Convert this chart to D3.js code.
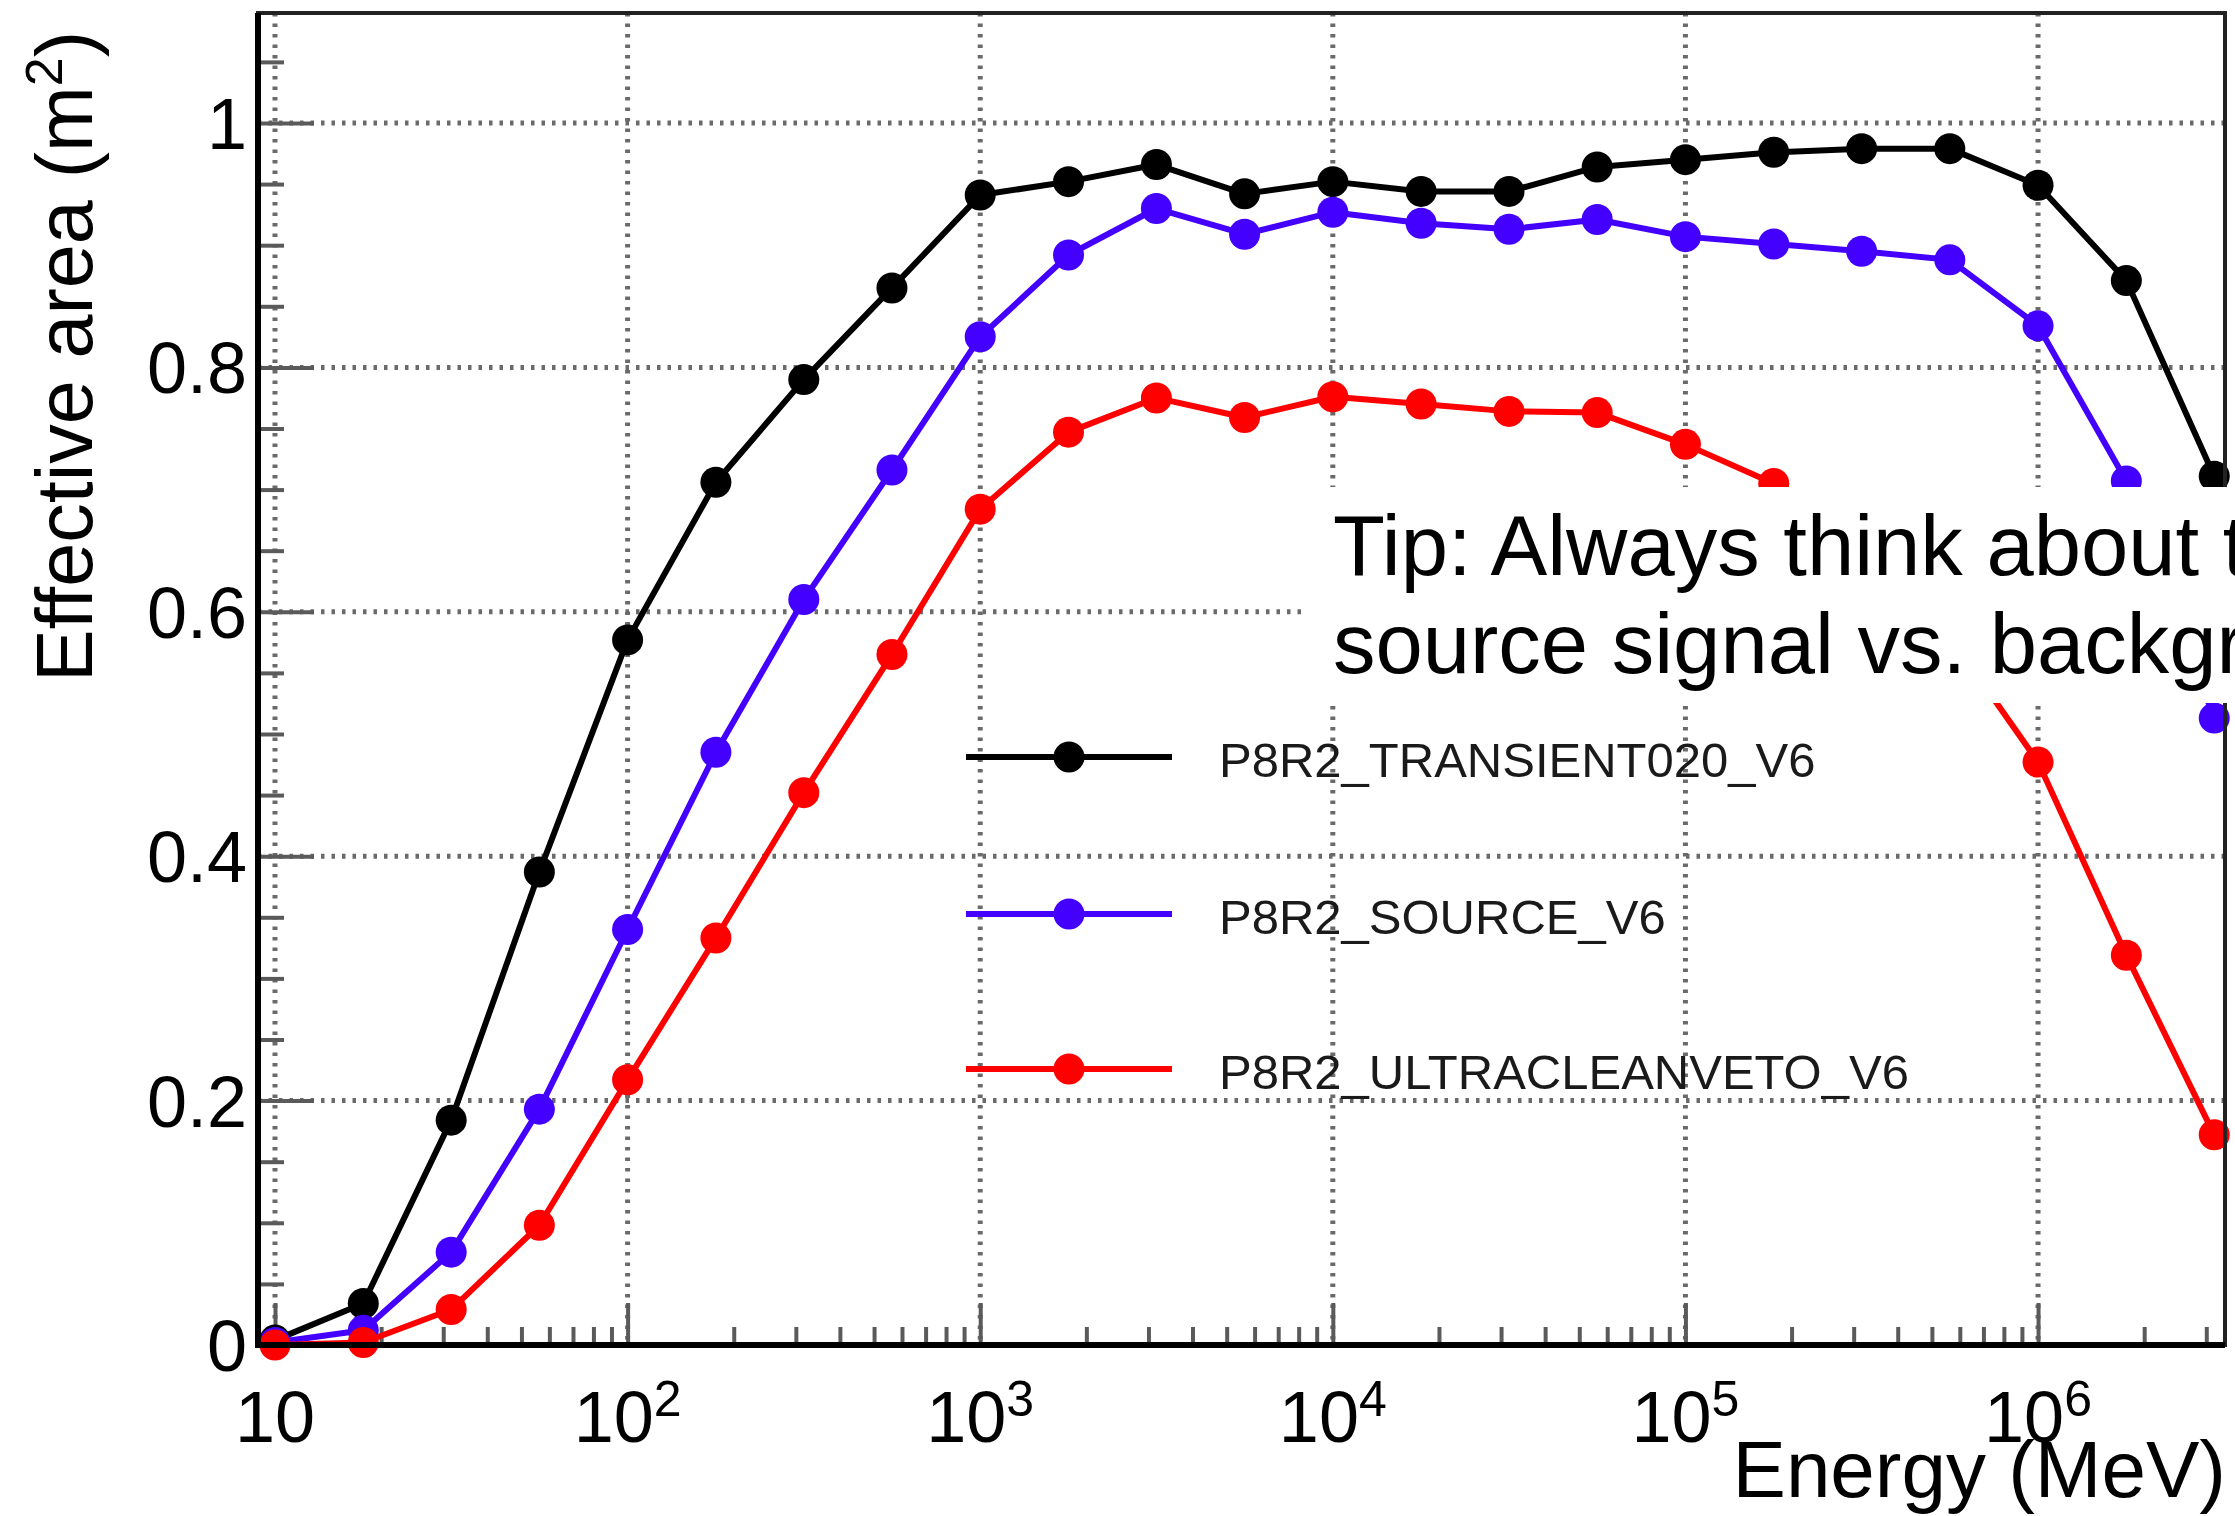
<!DOCTYPE html>
<html>
<head>
<meta charset="utf-8">
<script src="https://cdn.jsdelivr.net/npm/d3@7"></script>
<style>
  html, body { margin: 0; padding: 0; background: #fff; }
  svg { display: block; font-family: "Liberation Sans", Arial, sans-serif; }
</style>
</head>
<body>
<div id="chart"></div>
<script>
// energy bins (MeV), 4 per decade
const energies = [10, 17.8, 31.6, 56.2, 100, 178, 316, 562, 1000, 1780, 3160, 5620,
                  10000, 17800, 31600, 56200, 100000, 178000, 316000, 562000,
                  1000000, 1780000, 3160000];

// effective area (m^2)
const transient020 = [0.004, 0.034, 0.184, 0.387, 0.577, 0.706, 0.790, 0.865, 0.941, 0.952, 0.966, 0.942,
                      0.952, 0.944, 0.944, 0.964, 0.970, 0.976, 0.979, 0.979, 0.949, 0.871, 0.711];
const source       = [0.002, 0.012, 0.076, 0.193, 0.340, 0.485, 0.610, 0.716, 0.825, 0.892, 0.930, 0.909,
                      0.927, 0.918, 0.913, 0.921, 0.907, 0.901, 0.895, 0.888, 0.834, 0.707, 0.513];
const ultraclean   = [0.000, 0.002, 0.029, 0.098, 0.217, 0.333, 0.452, 0.565, 0.684, 0.747, 0.775, 0.759,
                      0.776, 0.770, 0.764, 0.763, 0.737, 0.705, 0.660, 0.580, 0.477, 0.319, 0.172];

const seriesNames  = ["P8R2_TRANSIENT020_V6", "P8R2_SOURCE_V6", "P8R2_ULTRACLEANVETO_V6"];
const seriesColors = ["#000000", "#4400ff", "#ff0000"];

const xMajorTicks = [10, 100, 1000, 10000, 100000, 1000000];
const xTickExponents = [1, 2, 3, 4, 5, 6];
const yMajorTicks = [0, 0.2, 0.4, 0.6, 0.8, 1];
const yTickLabels = ["0", "0.2", "0.4", "0.6", "0.8", "1"];

const tipLines = ["Tip: Always think about the", "source signal vs. background"];

const W = 2235, H = 1516;
const margin = { top: 13, right: 10, bottom: 171, left: 258 };
const width = W - margin.left - margin.right,
      height = H - margin.top - margin.bottom;

const svg = d3.select("#chart").append("svg")
    .attr("width", W)
    .attr("height", H);

const g = svg.append("g")
    .attr("transform", "translate(" + margin.left + "," + margin.top + ")");

const x = d3.scaleLog().domain([8.95, 3.39e6]).range([0, width]);
const y = d3.scaleLinear().domain([0, 1.09]).range([height, 0]);

// minor ticks
const xMinorTicks = [];
for (let d = 10; d <= 1e6; d *= 10) {
  for (let k = 2; k <= 9; k++) {
    if (d * k < 3.39e6) xMinorTicks.push(d * k);
  }
}
const yMinorTicks = d3.range(1, 22).map(i => i * 0.05).filter(v => Math.abs(v * 5 - Math.round(v * 5)) > 1e-6);

// grid
g.selectAll(".vgrid")
    .data(xMajorTicks)
    .enter().append("line")
    .attr("x1", d => x(d)).attr("x2", d => x(d))
    .attr("y1", 0).attr("y2", height)
    .style("stroke", "#6a6a6a")
    .style("stroke-width", 5)
    .style("stroke-dasharray", "3.5,7");

g.selectAll(".hgrid")
    .data(yMajorTicks)
    .enter().append("line")
    .attr("x1", 0).attr("x2", width)
    .attr("y1", d => y(d)).attr("y2", d => y(d))
    .style("stroke", "#6a6a6a")
    .style("stroke-width", 5)
    .style("stroke-dasharray", "3.5,7");

// ticks (inside)
const xMaj = g.append("g")
    .attr("transform", "translate(0," + height + ")")
    .call(d3.axisBottom(x).tickValues(xMajorTicks).tickSize(-42).tickSizeOuter(0).tickFormat(() => ""));
const xMin = g.append("g")
    .attr("transform", "translate(0," + height + ")")
    .call(d3.axisBottom(x).tickValues(xMinorTicks).tickSize(-18).tickSizeOuter(0).tickFormat(() => ""));
const yMaj = g.append("g")
    .call(d3.axisLeft(y).tickValues(yMajorTicks).tickSize(-56).tickSizeOuter(0).tickFormat(() => ""));
const yMin = g.append("g")
    .call(d3.axisLeft(y).tickValues(yMinorTicks).tickSize(-26).tickSizeOuter(0).tickFormat(() => ""));

[xMaj, xMin, yMaj, yMin].forEach(a => {
  a.select(".domain").remove();
  a.selectAll(".tick line").style("stroke", "#5a5a5a").style("stroke-width", 4);
});

// series
const seriesData = [transient020, source, ultraclean];
const line = d3.line()
    .x((d, i) => x(energies[i]))
    .y(d => y(d));

seriesData.forEach((vals, s) => {
  g.append("path")
      .datum(vals)
      .attr("d", line)
      .style("fill", "none")
      .style("stroke", seriesColors[s])
      .style("stroke-width", 6)
      .style("stroke-linejoin", "round");
  g.selectAll(".pt" + s)
      .data(vals)
      .enter().append("circle")
      .attr("cx", (d, i) => x(energies[i]))
      .attr("cy", d => y(d))
      .attr("r", 15.5)
      .style("fill", seriesColors[s]);
});

// legend
const legendRows = [757, 914, 1069];
seriesNames.forEach((name, s) => {
  const ly = legendRows[s];
  svg.append("line")
      .attr("x1", 966).attr("x2", 1172)
      .attr("y1", ly).attr("y2", ly)
      .style("stroke", seriesColors[s])
      .style("stroke-width", 6);
  svg.append("circle")
      .attr("cx", 1069).attr("cy", ly).attr("r", 15.5)
      .style("fill", seriesColors[s]);
  svg.append("text")
      .attr("x", 1219).attr("y", ly + 20)
      .style("font-size", "49px")
      .style("fill", "#1a1a1a")
      .text(name);
});

// frame
g.append("rect")
    .attr("x", 0).attr("y", 0)
    .attr("width", width).attr("height", height)
    .style("fill", "none")
    .style("stroke", "#222")
    .style("stroke-width", 4);
g.append("path")
    .attr("d", d3.line()([[0, 0], [0, height], [width, height]]))
    .style("fill", "none")
    .style("stroke", "#000")
    .style("stroke-width", 6);

// y tick labels
g.selectAll(".ylab")
    .data(yMajorTicks)
    .enter().append("text")
    .attr("x", -11)
    .attr("y", d => y(d))
    .attr("dy", "0.36em")
    .style("text-anchor", "end")
    .style("font-size", "72px")
    .text((d, i) => yTickLabels[i]);

// x tick labels
xMajorTicks.forEach((d, i) => {
  const t = g.append("text")
      .attr("x", x(d))
      .attr("y", height + 97)
      .style("text-anchor", "middle")
      .style("font-size", "72px");
  t.append("tspan").text("10");
  if (xTickExponents[i] > 1) {
    t.append("tspan")
        .attr("dy", -26)
        .style("font-size", "50px")
        .text(xTickExponents[i]);
  }
});

// axis titles
const yt = svg.append("text")
    .attr("transform", "translate(92,31) rotate(-90)")
    .style("text-anchor", "end")
    .style("font-size", "79px");
yt.append("tspan").text("Effective area (m");
yt.append("tspan").attr("dy", -30).style("font-size", "52px").text("2");
yt.append("tspan").attr("dy", 30).text(")");

svg.append("text")
    .attr("x", 2226).attr("y", 1497)
    .style("text-anchor", "end")
    .style("font-size", "80px")
    .text("Energy (MeV)");

// tip box on top
svg.append("rect")
    .attr("x", 1306).attr("y", 487)
    .attr("width", W - 1306).attr("height", 216)
    .style("fill", "#fff");

tipLines.forEach((txt, i) => {
  svg.append("text")
      .attr("x", 1333).attr("y", 575 + i * 98)
      .style("font-size", "85px")
      .style("fill", "#000")
      .text(txt);
});
</script>
</body>
</html>
